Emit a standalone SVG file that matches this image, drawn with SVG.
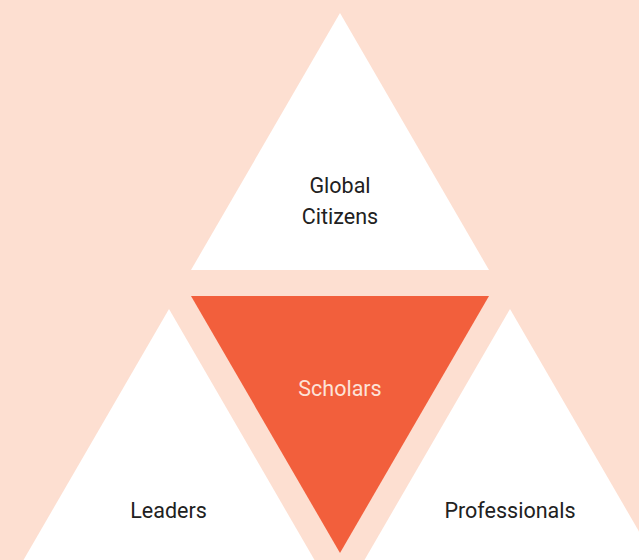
<svg xmlns="http://www.w3.org/2000/svg" width="639" height="560" viewBox="0 0 639 560">
<style>
.w{fill:#FFFFFF}
.o{fill:#F25F3C}
.t{font-family:Roboto,"Liberation Sans",sans-serif;font-size:21.5px;text-anchor:middle;fill:#212121}
.tl{font-family:Roboto,"Liberation Sans",sans-serif;font-size:21.5px;text-anchor:middle;fill:#FDE3D8}
</style>
<rect width="639" height="560" fill="#FDDFD1"/>
<g id="global-citizens">
<polygon class="w" points="340,13 489,270 191,270"/>
<text class="t" x="340" y="193">Global</text>
<text class="t" x="340" y="224">Citizens</text>
</g>
<g id="scholars">
<polygon class="o" points="191,296 489,296 340,553"/>
<text class="tl" x="340" y="396">Scholars</text>
</g>
<g id="leaders">
<polygon class="w" points="169,309 318,566 20,566"/>
<text class="t" x="168.5" y="518">Leaders</text>
</g>
<g id="professionals">
<polygon class="w" points="510,309 659,566 361,566"/>
<text class="t" x="510" y="518">Professionals</text>
</g>
<g id="connectors"/>
</svg>
